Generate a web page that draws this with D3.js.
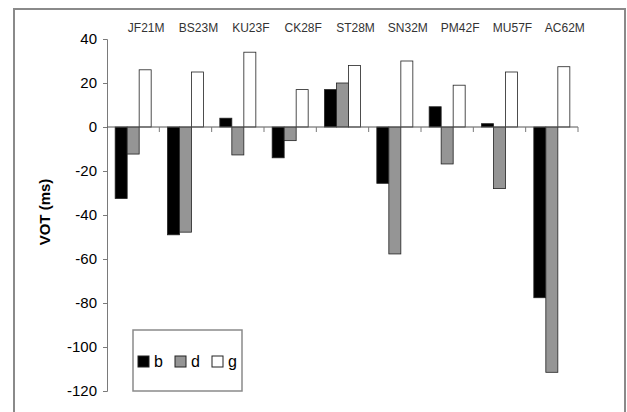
<!DOCTYPE html>
<html>
<head>
<meta charset="utf-8">
<script src="https://cdn.jsdelivr.net/npm/d3@7"></script>
<style>
  body { margin: 0; background: #fff; }
  text { font-family: "Liberation Sans", Arial, sans-serif; fill: #000; }
</style>
</head>
<body>
<svg id="chart" width="627" height="412"></svg>
<script>
// speakers and VOT values (ms) for each stop
var speakers = ["JF21M", "BS23M", "KU23F", "CK28F", "ST28M", "SN32M", "PM42F", "MU57F", "AC62M"];
var stops = ["b", "d", "g"];
var bValues = [-32.5, -49, 4, -14, 17, -25.6, 9.2, 1.5, -77.6];
var dValues = [-12.3, -47.8, -12.7, -6.2, 20, -57.7, -16.8, -28, -111.5];
var gValues = [26, 25, 34, 17, 28, 30, 19, 25, 27.4];
var yTicks = [40, 20, 0, -20, -40, -60, -80, -100, -120];
var colors = {b: "#000000", d: "#959595", g: "#ffffff"};

var series = {b: bValues, d: dValues, g: gValues};
var rows = speakers.map(function(s, i) {
  return {speaker: s, values: stops.map(function(k) { return {key: k, value: series[k][i]}; })};
});

var svg = d3.select("#chart");

svg.append("rect")
    .attr("width", 627).attr("height", 412).attr("fill", "#fff");

// outer frame
svg.append("rect")
    .attr("x", 14).attr("y", 9).attr("width", 611).attr("height", 420)
    .attr("fill", "none").attr("stroke", "#8a8a8a").attr("stroke-width", 2);

var x = d3.scaleBand().domain(speakers).range([107, 578]);
var x1 = d3.scaleBand().domain(stops).range([0, x.bandwidth()]).paddingOuter(0.68);
var y = d3.scaleLinear().domain([-120, 40]).range([391, 39]);

// bars
svg.append("g")
  .selectAll("g")
  .data(rows)
  .join("g")
    .attr("transform", function(d) { return "translate(" + x(d.speaker) + ",0)"; })
  .selectAll("rect")
  .data(function(d) { return d.values; })
  .join("rect")
    .attr("x", function(d) { return x1(d.key); })
    .attr("y", function(d) { return y(Math.max(0, d.value)); })
    .attr("width", x1.bandwidth())
    .attr("height", function(d) { return Math.abs(y(d.value) - y(0)); })
    .attr("fill", function(d) { return colors[d.key]; })
    .attr("stroke", "#222")
    .attr("stroke-width", 0.8);

// y axis (plain hyphen for negatives, as in the original)
var yAxis = svg.append("g")
    .attr("transform", "translate(107,0)")
    .call(d3.axisLeft(y).tickValues(yTicks).tickFormat(String)
      .tickSize(4).tickSizeOuter(4).tickPadding(6));
yAxis.selectAll("path, line").attr("stroke", "#7a7a7a");
yAxis.selectAll("text")
    .style("font-size", "15px")
    .attr("font-family", null);

// zero line with ticks between categories
var zero = svg.append("g").attr("transform", "translate(0," + y(0) + ")");
zero.append("line")
    .attr("x1", x.range()[0]).attr("x2", x.range()[1])
    .attr("stroke", "#555");
zero.selectAll("line.tick")
  .data(speakers)
  .join("line")
    .attr("class", "tick")
    .attr("x1", function(d) { return x(d) + x.bandwidth(); })
    .attr("x2", function(d) { return x(d) + x.bandwidth(); })
    .attr("y1", 0).attr("y2", 5)
    .attr("stroke", "#7a7a7a");

// speaker labels along the top
svg.append("g")
  .selectAll("text")
  .data(speakers)
  .join("text")
    .attr("x", function(d) { return x(d) + x.bandwidth() / 2 + 13; })
    .attr("y", 32)
    .attr("text-anchor", "middle")
    .style("font-size", "12px")
    .style("fill", "#333")
    .text(function(d) { return d; });

// axis title
svg.append("text")
    .attr("transform", "translate(50,212) rotate(-90)")
    .attr("text-anchor", "middle")
    .style("font-size", "15px")
    .style("font-weight", "bold")
    .text("VOT (ms)");

// legend
var legend = svg.append("g").attr("transform", "translate(133,330)");
legend.append("rect")
    .attr("width", 109).attr("height", 61)
    .attr("fill", "#fff").attr("stroke", "#8a8a8a").attr("stroke-width", 1.5);
var item = legend.selectAll("g")
  .data(stops)
  .join("g")
    .attr("transform", function(d, i) { return "translate(" + (5 + i * 37) + ",26)"; });
item.append("rect")
    .attr("width", 11).attr("height", 11)
    .attr("fill", function(d) { return colors[d]; })
    .attr("stroke", "#222");
item.append("text")
    .attr("x", 16).attr("y", 11)
    .style("font-size", "16px")
    .text(function(d) { return d; });
</script>
</body>
</html>
